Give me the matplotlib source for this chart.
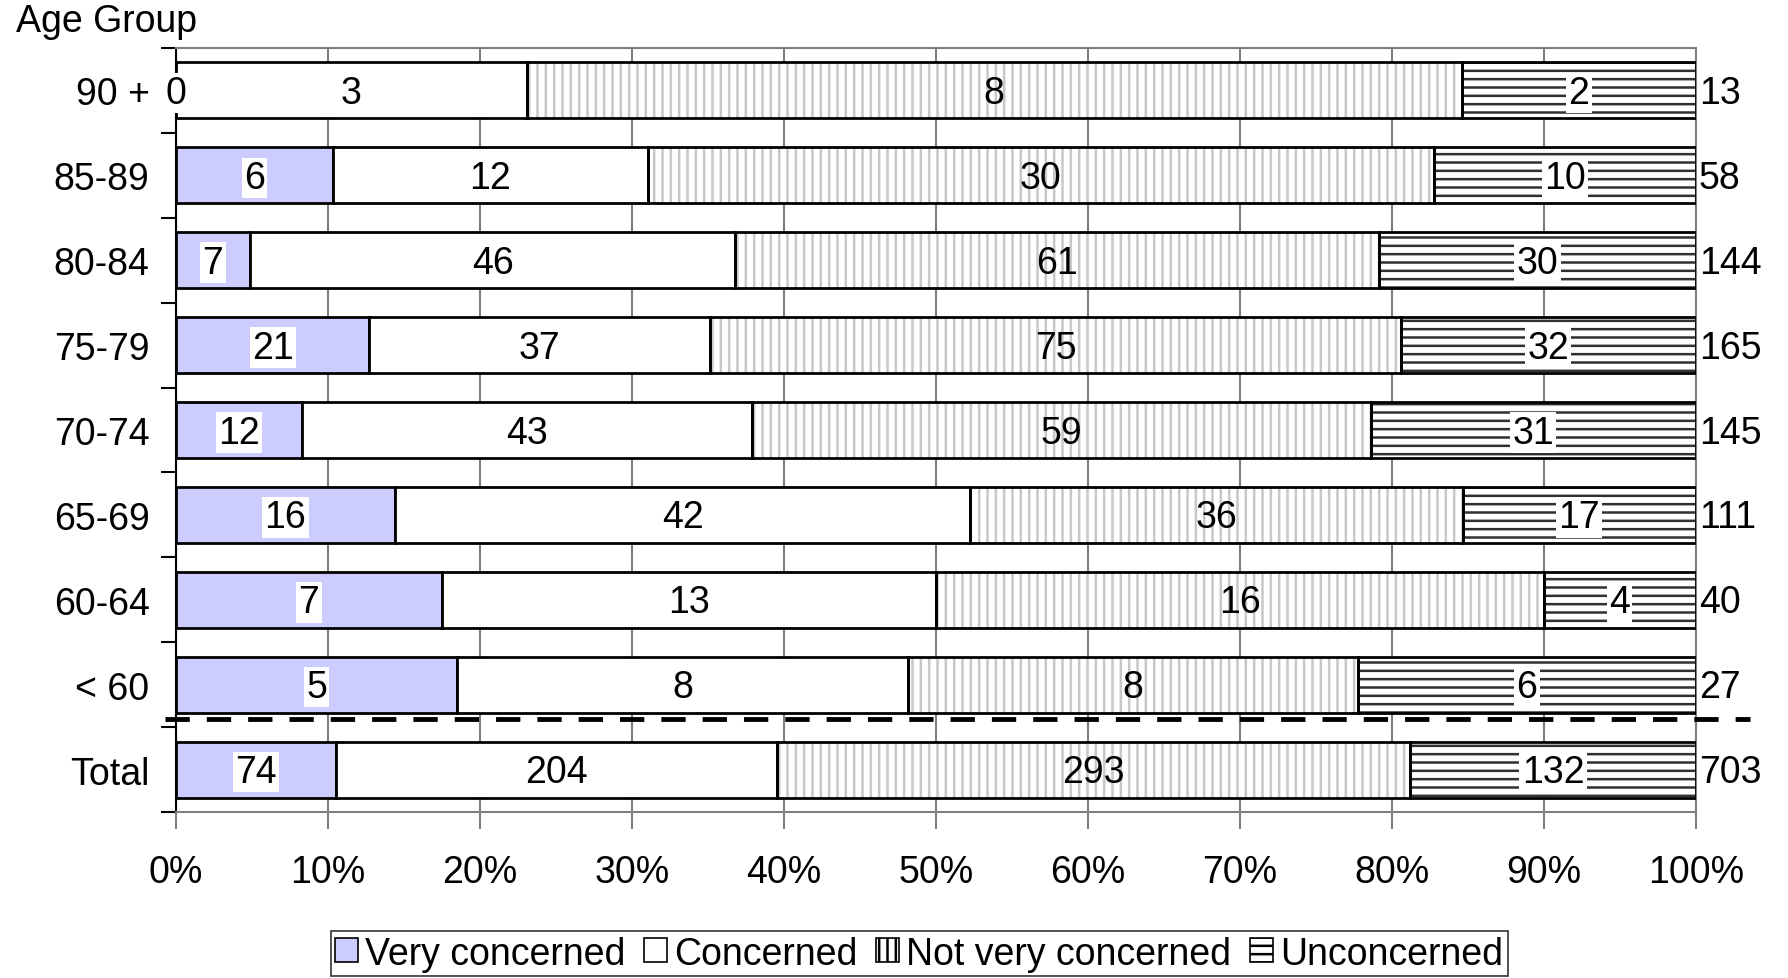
import numpy as np
import matplotlib
matplotlib.use('Agg')
import matplotlib.pyplot as plt
from matplotlib.patches import Patch
from matplotlib.ticker import FixedLocator, PercentFormatter

plt.rcParams['font.family'] = ['Liberation Sans', 'DejaVu Sans']
plt.rcParams['hatch.linewidth'] = 1.8

groups = ['90 +', '85-89', '80-84', '75-79', '70-74', '65-69', '60-64', '< 60', 'Total']
very_concerned = [0, 6, 7, 21, 12, 16, 7, 5, 74]
concerned = [3, 12, 46, 37, 43, 42, 13, 8, 204]
not_very = [8, 30, 61, 75, 59, 36, 16, 8, 293]
unconcerned = [2, 10, 30, 32, 31, 17, 4, 6, 132]
totals = [13, 58, 144, 165, 145, 111, 40, 27, 703]

series_names = ['Very concerned', 'Concerned', 'Not very concerned', 'Unconcerned']
face = ['#ccccff', 'white', 'white', 'white']
hatch = [None, None, '||', '--']
hatch_col = [None, None, '#c8c8c8', '#303030']
label_box = [True, True, False, True]

counts = np.array([very_concerned, concerned, not_very, unconcerned], dtype=float)
shares = counts / counts.sum(axis=0)
y = np.arange(len(groups))

fig = plt.figure(figsize=(17.88, 9.79), dpi=100)
ax = fig.add_axes([0.0984, 0.1696, 0.85, 0.7804])

left = np.zeros(len(groups))
for i in range(4):
    if hatch[i]:
        ax.barh(y, shares[i], left=left, height=0.66, color=face[i],
                hatch=hatch[i], edgecolor=hatch_col[i], linewidth=0, zorder=2)
        ax.barh(y, shares[i], left=left, height=0.66, fill=False,
                edgecolor='black', linewidth=2, zorder=3)
    else:
        ax.barh(y, shares[i], left=left, height=0.66, color=face[i],
                edgecolor='black', linewidth=2, zorder=3)
    for j in range(len(groups)):
        box = dict(facecolor='white', edgecolor='none', pad=1.5) if label_box[i] else None
        ax.text(left[j] + shares[i][j] / 2, y[j] + 0.03, str(int(counts[i][j])),
                ha='center', va='center', fontsize=27, zorder=5, bbox=box)
    left = left + shares[i]

for j in range(len(groups)):
    ax.text(1.002, y[j] + 0.03, str(totals[j]), ha='left', va='center', fontsize=27,
            transform=ax.get_yaxis_transform())

ax.set_xlim(0, 1)
ax.set_ylim(len(groups) - 0.5, -0.5)

ax.xaxis.set_major_locator(FixedLocator(np.arange(0, 1.01, 0.1)))
ax.xaxis.set_major_formatter(PercentFormatter(1.0, decimals=0))
ax.tick_params(axis='x', labelsize=27, length=12, width=1.5, color='#808080', pad=18)
ax.grid(axis='x', color='#808080', linewidth=1.5, zorder=0)
ax.set_axisbelow(True)

ax.yaxis.set_major_locator(FixedLocator(np.arange(-0.5, len(groups), 1.0)))
ax.yaxis.set_minor_locator(FixedLocator(y))
ax.set_yticklabels([], minor=False)
ax.set_yticklabels(groups, minor=True)
ax.tick_params(axis='y', which='major', length=11, width=1.5, color='black')
ax.tick_params(axis='y', which='minor', length=0, labelsize=27, pad=19)

for s in ['top', 'right', 'bottom']:
    ax.spines[s].set_color('#808080')
    ax.spines[s].set_linewidth(1.5)
ax.spines['left'].set_color('black')
ax.spines['left'].set_linewidth(1.5)

# separator between age groups and total
ax.plot([-0.0072, 1.036], [7.4, 7.4], color='black', lw=3.5, dashes=(5, 3.5),
        clip_on=False, zorder=6)

fig.text(0.009, 0.978, 'Age Group', fontsize=27, ha='left', va='center')

handles = [Patch(facecolor=face[i], edgecolor='black', hatch=hatch[i], linewidth=1.2)
           for i in range(4)]
leg = fig.legend(handles, series_names, loc='upper center', bbox_to_anchor=(0.514, 0.048),
                 ncol=4, fontsize=27, frameon=True, fancybox=False, edgecolor='black',
                 handlelength=0.6, handleheight=0.6, handletextpad=0.2, columnspacing=0.5,
                 borderpad=0.12, borderaxespad=0)
leg.get_frame().set_linewidth(1.2)

fig.savefig('out.png', dpi=100)
